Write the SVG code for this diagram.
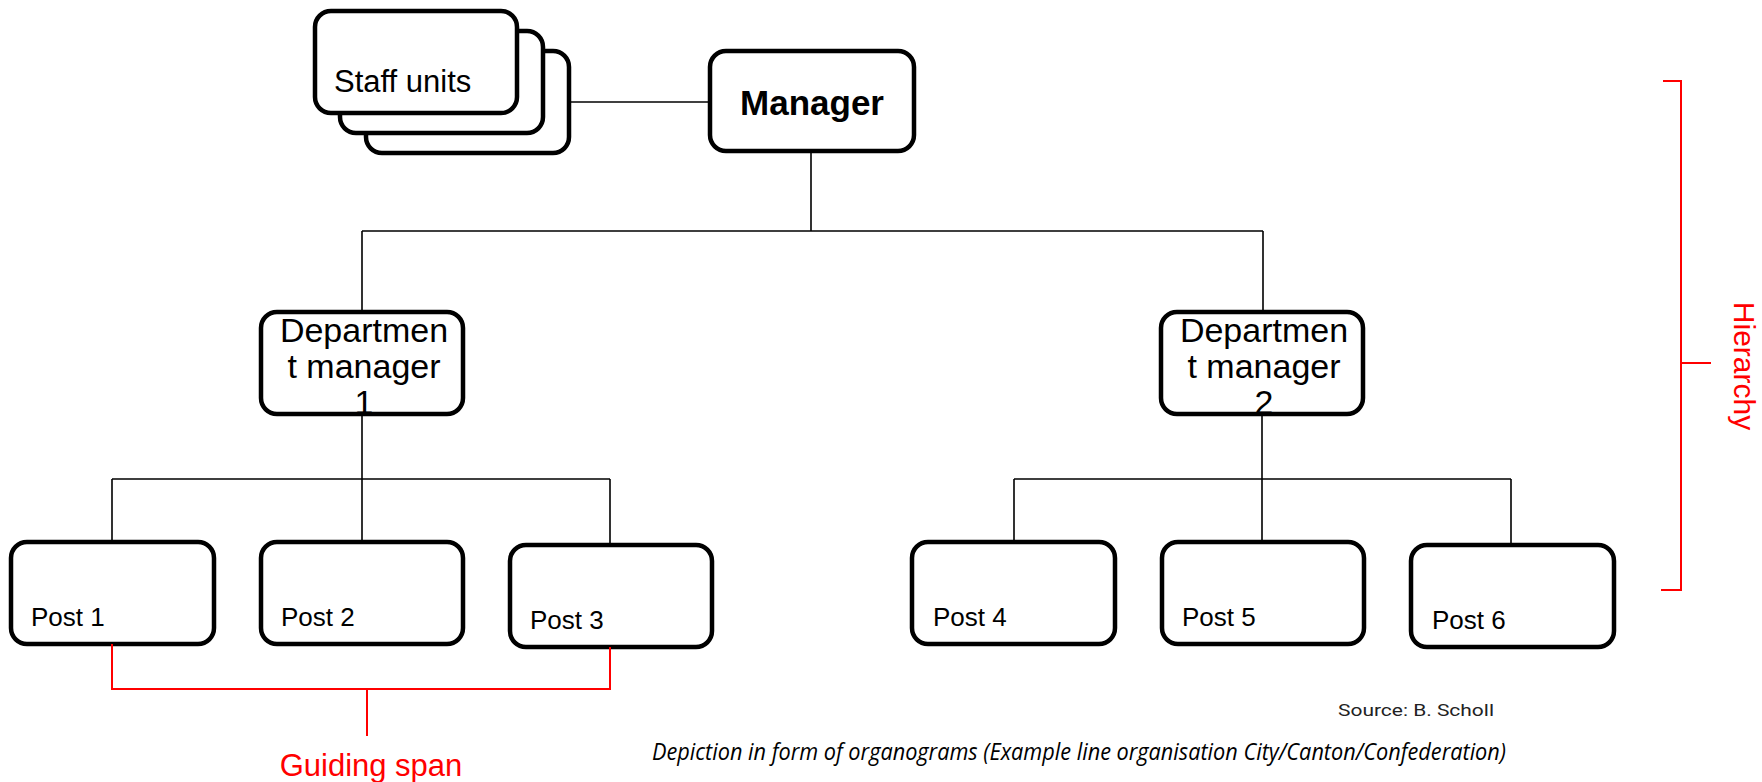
<svg xmlns="http://www.w3.org/2000/svg" width="1762" height="782" viewBox="0 0 1762 782">
<style>
.box{fill:#fff;stroke:#000;stroke-width:4.5}
.t{font-family:"Liberation Sans",Arial,sans-serif;fill:#000}
.post{font-size:26px}
.dept{font-size:34px;text-anchor:middle}
.conn{stroke:#000;stroke-width:1.6;fill:none}
.red{stroke:#ff0000;stroke-width:2;fill:none}
</style>
<rect width="1762" height="782" fill="#fff"/>
<g id="connectors">
<path class="conn" d="M569 102H710"/>
<path class="conn" d="M811 151V231M362 231H1263M362 231V312M1263 231V312"/>
<path class="conn" d="M362 414V542M112 479H610M112 479V542M610 479V545"/>
<path class="conn" d="M1262 414V542M1014 479H1511M1014 479V542M1511 479V545"/>
</g>
<g id="staff-units">
<rect class="box" x="366" y="51" width="203" height="102" rx="16"/>
<rect class="box" x="340" y="31" width="203" height="102" rx="16"/>
<rect class="box" x="315" y="11" width="202" height="102" rx="16"/>
<text class="t" x="334" y="92" font-size="31">Staff units</text>
</g>
<g id="manager">
<rect class="box" x="710" y="51" width="204" height="100" rx="16"/>
<text class="t" x="812" y="115" font-size="35" font-weight="bold" text-anchor="middle">Manager</text>
</g>
<g id="dept1">
<rect class="box" x="261" y="312" width="202" height="102" rx="16"/>
<text class="t dept" x="364" y="342">Departmen</text>
<text class="t dept" x="364" y="378">t manager</text>
<text class="t dept" x="364" y="414">1</text>
</g>
<g id="dept2">
<rect class="box" x="1161" y="312" width="202" height="102" rx="16"/>
<text class="t dept" x="1264" y="342">Departmen</text>
<text class="t dept" x="1264" y="378">t manager</text>
<text class="t dept" x="1264" y="414">2</text>
</g>
<g id="post1"><rect class="box" x="11" y="542" width="203" height="102" rx="16"/><text class="t post" x="31" y="626">Post 1</text></g>
<g id="post2"><rect class="box" x="261" y="542" width="202" height="102" rx="16"/><text class="t post" x="281" y="626">Post 2</text></g>
<g id="post3"><rect class="box" x="510" y="545" width="202" height="102" rx="16"/><text class="t post" x="530" y="629">Post 3</text></g>
<g id="post4"><rect class="box" x="912" y="542" width="203" height="102" rx="16"/><text class="t post" x="933" y="626">Post 4</text></g>
<g id="post5"><rect class="box" x="1162" y="542" width="202" height="102" rx="16"/><text class="t post" x="1182" y="626">Post 5</text></g>
<g id="post6"><rect class="box" x="1411" y="545" width="203" height="102" rx="16"/><text class="t post" x="1432" y="629">Post 6</text></g>
<g id="guiding-span">
<path class="red" d="M112 644V689H610V647M367 689V736"/>
<text class="t" x="371" y="776" font-size="31" style="fill:#ff0000" text-anchor="middle">Guiding span</text>
</g>
<g id="hierarchy">
<path class="red" d="M1663 81H1681V590H1661M1681 363H1711"/>
<text class="t" transform="translate(1734 366) rotate(90)" font-size="30" style="fill:#ff0000" text-anchor="middle">Hierarchy</text>
</g>
<text id="source" x="1338" y="716" font-family="Roboto,'DejaVu Sans',sans-serif" font-size="17" fill="#222" textLength="156" lengthAdjust="spacingAndGlyphs">Source: B. Scholl</text>
<text id="caption" x="652" y="760" font-family="'Open Sans','DejaVu Sans',sans-serif" font-style="italic" font-size="24" fill="#000" textLength="854" lengthAdjust="spacingAndGlyphs">Depiction in form of organograms (Example line organisation City/Canton/Confederation)</text>
</svg>
